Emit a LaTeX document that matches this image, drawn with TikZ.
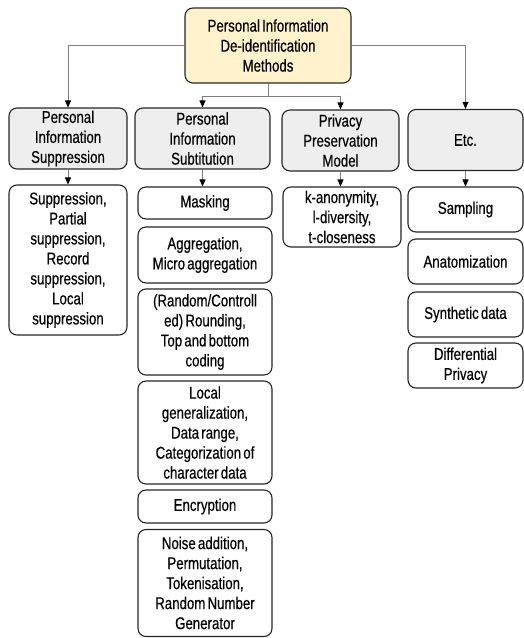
\documentclass[tikz,border=0pt]{standalone}
\usepackage{fontspec}
\setmainfont{Liberation Sans}[FakeStretch=0.78, FakeBold=0.4, WordSpace=0.6]
\usetikzlibrary{arrows.meta}

\definecolor{rootfill}{HTML}{FFF2CC}
\definecolor{catfill}{HTML}{EEEEEE}
\definecolor{linkgray}{HTML}{7F7F7F}

\begin{document}
\begin{tikzpicture}[x=1pt, y=-1pt,
    box/.style={draw=black!85, line width=1.1pt, rounded corners=8pt, align=center,
      inner sep=0pt, font=\fontsize{17}{20}\selectfont},
    rootbox/.style={box, fill=rootfill, minimum width=166pt, minimum height=75pt},
    catbox/.style={box, fill=catfill, minimum height=61pt},
    itembox/.style={box, fill=white},
    link/.style={draw=linkgray, line width=0.8pt},
    arrowlink/.style={link, -{Triangle[length=7pt,width=6pt,color=black]}}]
    \useasboundingbox (0,0) rectangle (524,638);

    % Root of the tree
    \node[rootbox] (root) at (268,45.5) {Personal Information\\De-identification\\Methods};

    % The four groups of methods
    \node[catbox, minimum width=118pt] (supp) at (68,138.5) {Personal\\Information\\Suppression};
    \node[catbox, minimum width=135pt] (subst) at (202.5,138.5) {Personal\\Information\\Subtitution};
    \node[catbox, minimum width=117pt] (privm) at (340.5,140.5) {Privacy\\Preservation\\Model};
    \node[catbox, minimum width=115pt] (etc) at (465.5,140) {Etc.};

    % Suppression methods
    \node[itembox, minimum width=118pt, minimum height=150pt] (suppall) at (68,260)
      {Suppression,\\Partial\\suppression,\\Record\\suppression,\\Local\\suppression};

    % Substitution methods
    \def\subw{134pt}
    \node[itembox, minimum width=\subw, minimum height=32pt] (mask) at (205,203) {Masking};
    \node[itembox, minimum width=\subw, minimum height=56pt] (aggr) at (205,255) {Aggregation,\\Micro aggregation};
    \node[itembox, minimum width=\subw, minimum height=86pt] (round) at (205,332)
      {(Random/Controll\\ed) Rounding,\\Top and bottom\\coding};
    \node[itembox, minimum width=\subw, minimum height=103pt] (locgen) at (205,432.5)
      {Local\\generalization,\\Data range,\\Categorization of\\character data};
    \node[itembox, minimum width=\subw, minimum height=33pt] (encr) at (205,506.5) {Encryption};
    \node[itembox, minimum width=\subw, minimum height=107pt] (noise) at (205,583)
      {Noise addition,\\Permutation,\\Tokenisation,\\Random Number\\Generator};

    % Privacy models
    \node[itembox, minimum width=118pt, minimum height=60pt] (kanon) at (342,217)
      {k-anonymity,\\l-diversity,\\t-closeness};

    % Other methods
    \def\etcw{115pt}
    \node[itembox, minimum width=\etcw, minimum height=45pt] (samp) at (465.5,209.5) {Sampling};
    \node[itembox, minimum width=\etcw, minimum height=45pt] (anat) at (465.5,261.5) {Anatomization};
    \node[itembox, minimum width=\etcw, minimum height=45pt] (synth) at (465.5,314.5) {Synthetic data};
    \node[itembox, minimum width=\etcw, minimum height=45pt] (diffp) at (465.5,365.5) {Differential\\Privacy};

    % Links from the root
    \coordinate (split) at (268,96);
    \draw[arrowlink] (root.west) -| (supp.north);
    \draw[arrowlink] (root.east) -| (etc.north);
    \draw[link] (root.south) -- (split);
    \draw[arrowlink] (split) -| (subst.north);
    \draw[arrowlink] (split) -| (privm.north);

    % Links from the groups
    \draw[arrowlink] (supp.south) -- (suppall.north);
    \draw[arrowlink] (subst.south) -- (subst.south |- mask.north);
    \draw[arrowlink] (privm.south) -- (privm.south |- kanon.north);
    \draw[arrowlink] (etc.south) -- (samp.north);

\end{tikzpicture}
\end{document}
